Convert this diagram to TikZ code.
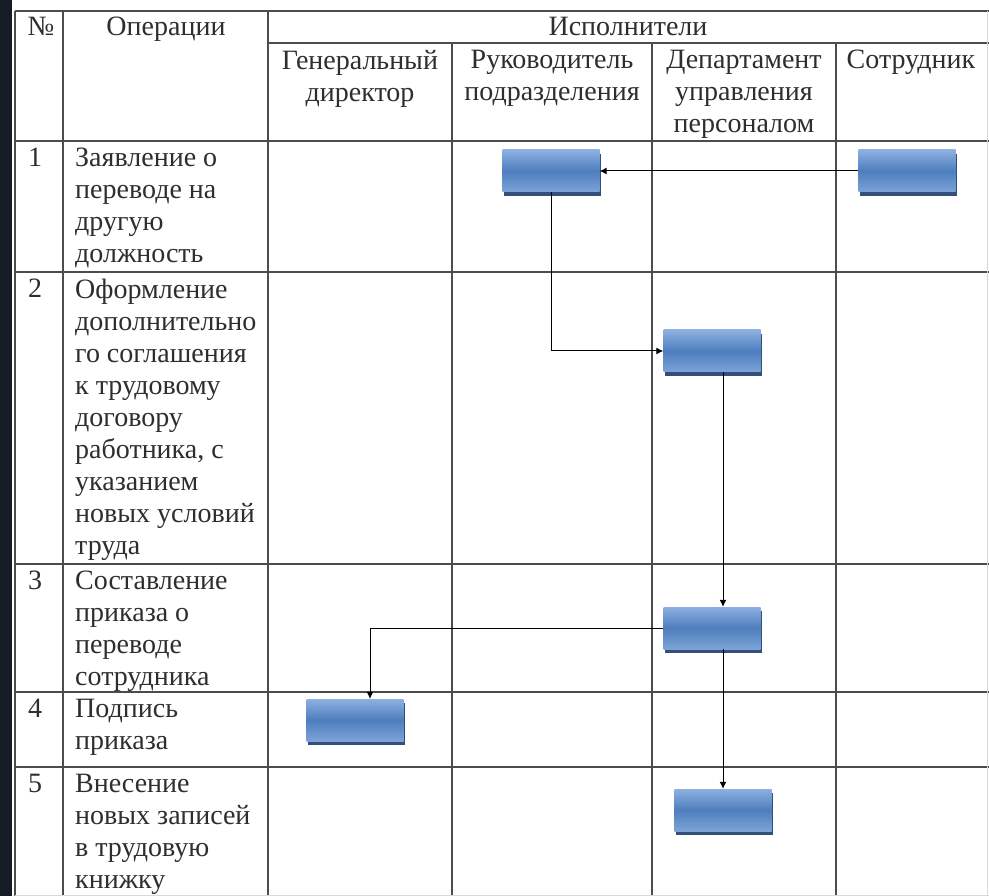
\documentclass[tikz,border=0pt]{standalone}
\usepackage{fontspec}
\setmainfont{LiberationSerif}[Extension=.ttf, UprightFont=*-Regular, BoldFont=*-Bold]
\usepackage{xcolor}
\usetikzlibrary{positioning}
\usetikzlibrary{arrows.meta,shadows}

\definecolor{boxtop}{HTML}{8DB0E0}
\definecolor{boxmid}{HTML}{4E7EBE}
\definecolor{boxbot}{HTML}{7DA3D7}
\definecolor{boxedge}{HTML}{34507A}
\definecolor{gridcol}{HTML}{4C4C4C}
\definecolor{textcol}{HTML}{2E2E2E}
\definecolor{stripcol}{HTML}{161B26}

\tikzset{
  procbox/.style={rectangle, inner sep=0pt, minimum width=97pt, minimum height=42pt,
    top color=boxtop, bottom color=boxbot, middle color=boxmid,
    drop shadow={shadow xshift=1.5pt, shadow yshift=-4pt, fill=boxedge, opacity=1}},
  head/.style={anchor=north, align=center},
  optext/.style={anchor=north west, align=left},
  flow/.style={-{Latex[length=7pt,width=7pt]}, line width=1pt, black},
  grid/.style={line width=1.6pt, gridcol}
}

\begin{document}
\begin{tikzpicture}[x=1pt, y=-1pt, every node/.style={font=\fontsize{28}{32}\selectfont, text=textcol, inner sep=0pt}]

    \useasboundingbox (0,0) rectangle (989,896);
    \fill[white] (0,0) rectangle (989,896);
    \fill[stripcol] (0,0) rectangle (12,896);

    % Table
    \draw[grid] (15,11) -- (989,11);
    \draw[grid] (268,43) -- (989,43);
    \draw[grid] (15,141) -- (989,141);
    \draw[grid] (15,272) -- (989,272);
    \draw[grid] (15,564) -- (989,564);
    \draw[grid] (15,692) -- (989,692);
    \draw[grid] (15,767) -- (989,767);
    \draw[grid] (15,11) -- (15,896);
    \draw[grid] (63,11) -- (63,896);
    \draw[grid] (268,11) -- (268,896);
    \draw[grid] (452,43) -- (452,896);
    \draw[grid] (652,43) -- (652,896);
    \draw[grid] (836,43) -- (836,896);
    \draw[line width=1pt, gray!30] (15,895) -- (989,895);
    \draw[line width=1pt, gray!30] (987,11) -- (987,896);

    % Header
    \node at (41,17) (hnum) [head] {№};
    \node at (166,17) (hops) [head] {Операции};
    \node at (628,17) (hexec) [head] {Исполнители};
    \node at (360,50) (hgen) [head] {Генеральный\\директор};
    \node at (552,50) (hruk) [head] {Руководитель\\подразделения};
    \node at (744,50) (hdep) [head] {Департамент\\управления\\персоналом};
    \node at (911,50) (hsot) [head] {Сотрудник};

    % Operations
    \node at (28,148) (n1) [optext] {1};
    \node at (28,279) (n2) [optext] {2};
    \node at (28,571) (n3) [optext] {3};
    \node at (28,699) (n4) [optext] {4};
    \node at (28,774) (n5) [optext] {5};
    \node at (75,148) (op1) [optext] {Заявление о\\переводе на\\другую\\должность};
    \node at (75,279) (op2) [optext] {Оформление\\дополнительно\\го соглашения\\к трудовому\\договору\\работника, с\\указанием\\новых условий\\труда};
    \node at (75,571) (op3) [optext] {Составление\\приказа о\\переводе\\сотрудника};
    \node at (75,699) (op4) [optext] {Подпись\\приказа};
    \node at (75,774) (op5) [optext] {Внесение\\новых записей\\в трудовую\\книжку};

    % Boxes
    \node at (551,171) (ruk1) [procbox] {};
    \node at (907,171) (sot1) [procbox] {};
    \node at (712,351) (dep2) [procbox] {};
    \node at (712,628) (dep3) [procbox] {};
    \node at (355,720) (gen4) [procbox] {};
    \node at (723,810) (dep5) [procbox] {};

    % Arrows
    \draw[flow] (sot1.west) -- (ruk1.east);
    \draw[flow] (ruk1.south) |- (dep2.west);
    \draw[flow] (dep2.south -| dep5.north) -- (dep3.north -| dep5.north);
    \draw[flow] (dep3.west) -| ([xshift=15pt]gen4.north);
    \draw[flow] (dep3.south -| dep5.north) -- (dep5.north);

\end{tikzpicture}
\end{document}
